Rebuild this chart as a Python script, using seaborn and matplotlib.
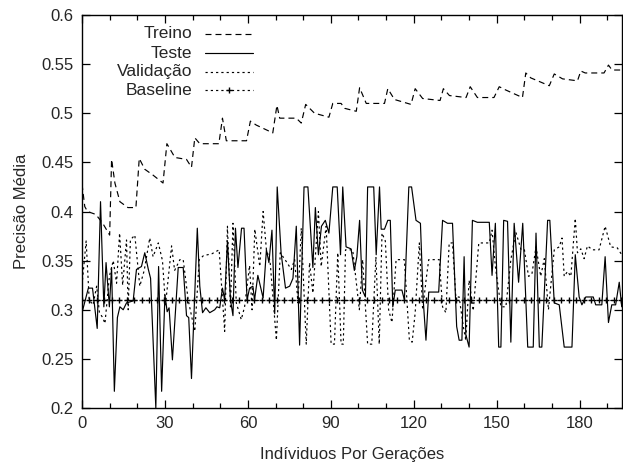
import numpy as np
import pandas as pd
import matplotlib
matplotlib.use("Agg")
import matplotlib.pyplot as plt
import seaborn as sns
from matplotlib.ticker import MultipleLocator, FuncFormatter
from matplotlib.lines import Line2D

# ---------------- data ----------------
treino_x = [0, 1, 2, 5, 7.5, 10, 10.7, 11.9, 13.7, 16.6, 19.5, 20.7, 22.7, 25.7, 29.3,
            30.7, 33.6, 37.8, 39.6, 40.8, 42.6, 49.5, 50.8, 52.2, 59.5, 60.9, 63, 69,
            70.5, 71.5, 77.5, 79.3, 80.9, 84.1, 89.3, 90.7, 93.7, 95, 99.2, 100.4, 102.8,
            109.4, 110.6, 113, 119, 120.5, 123.2, 129.5, 130.7, 132.9, 138.9, 140.4, 143,
            149, 150.9, 153, 159.3, 160.5, 162.3, 169, 170.8, 173.8, 179.2, 180.4, 182,
            188.8, 190.4, 191.7, 195.3]
treino_y = [0.428, 0.405, 0.400, 0.397, 0.388, 0.376, 0.453, 0.429, 0.410, 0.404, 0.404,
            0.454, 0.443, 0.437, 0.429, 0.469, 0.455, 0.453, 0.445, 0.475, 0.469, 0.469,
            0.495, 0.472, 0.472, 0.492, 0.488, 0.480, 0.508, 0.495, 0.495, 0.490, 0.509,
            0.500, 0.496, 0.510, 0.510, 0.505, 0.502, 0.526, 0.510, 0.510, 0.525, 0.514,
            0.509, 0.525, 0.515, 0.513, 0.525, 0.518, 0.516, 0.527, 0.516, 0.516, 0.527,
            0.524, 0.516, 0.541, 0.536, 0.528, 0.540, 0.535, 0.533, 0.543, 0.541, 0.541,
            0.549, 0.544, 0.544]

teste_x = [0, 2.3, 3.8, 5.5, 6.7, 7.9, 8.7, 9.9, 10.7, 11.7, 12.8, 13.7, 14.9, 16.1, 18.5,
           19.7, 21.5, 22.7, 24, 24.8, 26.7, 27.7, 28.8, 30, 30.8, 31.5, 32.7, 34.8, 36.6,
           37.8, 38.6, 39.6, 41.7, 42.6, 43.6, 44.8, 46.2, 48, 48.8, 49.8, 50.8, 51.6,
           52.6, 53.7, 54.6, 55.5, 56.4, 57.7, 58.6, 59.7, 60.6, 61.8, 62.4, 63.6, 65.5,
           66.7, 67.6, 68.7, 69.7, 70.6, 72, 73.6, 75.1, 76.3, 77.5, 78.7, 80.3, 81.7,
           83.5, 84.4, 85.5, 86.6, 88, 89.3, 90.7, 92.3, 93.5, 94.3, 95.5, 97.3, 98.5,
           99.4, 100.4, 101.4, 102.5, 103.3, 105.5, 106.4, 107.6, 108.2, 109.4, 110.6,
           111.5, 112.4, 113.3, 115.7, 116.6, 118.2, 119.2, 120.8, 122.4, 123.4, 124.4,
           125.4, 129, 130.4, 132.2, 134, 135.5, 136.4, 137.4, 138.2, 138.8, 140, 141.2,
           143, 147.3, 148.3, 149.5, 150.7, 151.5, 152.5, 153.9, 155.1, 156.3, 157.9,
           159.4, 161.2, 163.2, 164.2, 165.4, 166.3, 168.4, 169.2, 170.8, 172.6, 174.4,
           177.2, 178.4, 179.8, 180.8, 182.2, 184.9, 185.8, 188, 189.2, 190.4, 191.6,
           193, 194.3, 195.2]
teste_y = [0.297, 0.322, 0.322, 0.281, 0.410, 0.303, 0.348, 0.303, 0.343, 0.217, 0.292,
           0.303, 0.300, 0.307, 0.309, 0.341, 0.344, 0.358, 0.341, 0.332, 0.200, 0.344,
           0.217, 0.315, 0.298, 0.302, 0.249, 0.343, 0.343, 0.294, 0.292, 0.230, 0.383,
           0.324, 0.297, 0.302, 0.297, 0.300, 0.303, 0.302, 0.322, 0.310, 0.370, 0.310,
           0.294, 0.383, 0.343, 0.383, 0.383, 0.310, 0.322, 0.324, 0.310, 0.335, 0.312,
           0.361, 0.348, 0.381, 0.296, 0.425, 0.358, 0.322, 0.324, 0.332, 0.385, 0.264,
           0.425, 0.425, 0.343, 0.404, 0.356, 0.385, 0.391, 0.378, 0.425, 0.425, 0.356,
           0.425, 0.364, 0.362, 0.340, 0.354, 0.391, 0.320, 0.313, 0.425, 0.425, 0.356,
           0.425, 0.382, 0.382, 0.391, 0.391, 0.303, 0.320, 0.320, 0.310, 0.425, 0.425,
           0.391, 0.388, 0.310, 0.269, 0.318, 0.318, 0.391, 0.388, 0.388, 0.283, 0.269,
           0.269, 0.354, 0.275, 0.262, 0.391, 0.389, 0.389, 0.335, 0.388, 0.262, 0.262,
           0.391, 0.390, 0.267, 0.388, 0.328, 0.388, 0.262, 0.262, 0.378, 0.262, 0.262,
           0.391, 0.391, 0.307, 0.305, 0.262, 0.262, 0.356, 0.313, 0.305, 0.313, 0.313,
           0.305, 0.305, 0.354, 0.287, 0.305, 0.305, 0.328, 0.303]

valid_x = [0, 1.5, 2.6, 4, 5.3, 6.3, 7.5, 8.3, 9.9, 11.3, 12.5, 13.6, 14.7, 16.1, 16.7,
           17.5, 19.1, 20.9, 22.5, 24.5, 25.7, 27.6, 29.1, 30.2, 32.4, 33.5, 35.4, 36.6,
           38.4, 40.8, 42.4, 43.9, 47, 49.6, 51.6, 52.6, 53.7, 54.6, 55.8, 57.6, 58.8,
           60.6, 61.5, 62.5, 64.3, 65.5, 66.7, 68, 70.3, 71.7, 73.9, 75.7, 76.9, 78.1,
           79.3, 81.1, 82.3, 83.5, 85.5, 86.5, 88.3, 90.1, 91.3, 92.5, 93.7, 94.5, 95.3,
           97.9, 100.3, 101.5, 103.3, 104.8, 106.3, 107.5, 108.5, 109.7, 110.9, 112.1,
           113.6, 116.6, 118.4, 119.4, 120.5, 122, 123.2, 124.6, 125.4, 129.2, 130.4,
           131.6, 132.8, 134, 135.2, 136.4, 137.9, 138.8, 140, 141.5, 143.5, 147.3, 148.3,
           149.5, 151.5, 153.3, 155.1, 156.9, 158.8, 160, 161.5, 162.7, 164.2, 165.9,
           167.2, 168.7, 170.8, 172.6, 173.6, 174.4, 175.6, 176.8, 178.4, 179.2, 180.4,
           181.6, 182.8, 184.6, 187, 189.2, 191.2, 193.6, 195.2]
valid_y = [0.325, 0.370, 0.310, 0.305, 0.324, 0.297, 0.292, 0.286, 0.334, 0.350, 0.327,
           0.378, 0.325, 0.371, 0.300, 0.371, 0.376, 0.324, 0.340, 0.373, 0.354, 0.368,
           0.350, 0.305, 0.365, 0.340, 0.351, 0.351, 0.310, 0.278, 0.351, 0.355, 0.357,
           0.361, 0.278, 0.385, 0.303, 0.388, 0.307, 0.290, 0.303, 0.345, 0.300, 0.382,
           0.344, 0.400, 0.361, 0.350, 0.269, 0.358, 0.349, 0.341, 0.351, 0.307, 0.383,
           0.265, 0.348, 0.317, 0.400, 0.344, 0.385, 0.265, 0.265, 0.358, 0.265, 0.265,
           0.361, 0.361, 0.300, 0.351, 0.265, 0.265, 0.354, 0.265, 0.378, 0.370, 0.300,
           0.287, 0.351, 0.351, 0.269, 0.267, 0.297, 0.368, 0.300, 0.334, 0.351, 0.351,
           0.303, 0.297, 0.368, 0.368, 0.313, 0.313, 0.283, 0.269, 0.330, 0.299, 0.368,
           0.368, 0.381, 0.344, 0.303, 0.303, 0.351, 0.379, 0.361, 0.361, 0.334, 0.336,
           0.364, 0.334, 0.352, 0.300, 0.361, 0.364, 0.373, 0.334, 0.339, 0.334, 0.393,
           0.358, 0.362, 0.352, 0.365, 0.361, 0.361, 0.385, 0.364, 0.363, 0.356]

baseline_value = 0.31
baseline_x = list(np.round(np.linspace(0, 195, 73), 2))

x_ticks = [0, 30, 60, 90, 120, 150, 180]
y_ticks = [0.2, 0.25, 0.3, 0.35, 0.4, 0.45, 0.5, 0.55, 0.6]
labels = ["Treino", "Teste", "Validação", "Baseline"]

# ---------------- style ----------------
sns.set_style("ticks")
plt.rcParams["font.family"] = ["Liberation Sans", "DejaVu Sans"]
plt.rcParams["lines.scale_dashes"] = False
plt.rcParams["font.size"] = 12

fig = plt.figure(figsize=(6.23, 4.66), dpi=100)
ax = fig.add_axes([82 / 623, 1 - 408 / 466, 540 / 623, 393 / 466])

df_tr = pd.DataFrame({"x": treino_x, "y": treino_y})
df_te = pd.DataFrame({"x": teste_x, "y": teste_y})
df_va = pd.DataFrame({"x": valid_x, "y": valid_y})
df_bl = pd.DataFrame({"x": baseline_x, "y": [baseline_value] * len(baseline_x)})

lw = 0.85
dot = (0, (1.6, 2.2))
sns.lineplot(data=df_tr, x="x", y="y", ax=ax, color="black", lw=lw,
             estimator=None, sort=False, linestyle=(0, (4.3, 2.9)))
sns.lineplot(data=df_te, x="x", y="y", ax=ax, color="black", lw=lw,
             estimator=None, sort=False)
sns.lineplot(data=df_va, x="x", y="y", ax=ax, color="black", lw=lw,
             estimator=None, sort=False, linestyle=dot)
sns.lineplot(data=df_bl, x="x", y="y", ax=ax, color="black", lw=lw,
             estimator=None, sort=False, linestyle=dot,
             marker="+", markersize=4.5, markeredgewidth=1.0,
             markeredgecolor="black", markerfacecolor="black")

ax.set_xlim(0, 195.3)
ax.set_ylim(0.2, 0.6)
ax.xaxis.set_major_locator(matplotlib.ticker.FixedLocator(x_ticks))
ax.xaxis.set_minor_locator(MultipleLocator(10))
ax.yaxis.set_major_locator(matplotlib.ticker.FixedLocator(y_ticks))
ax.yaxis.set_major_formatter(FuncFormatter(lambda v, p: "%g" % round(v, 3)))
ax.tick_params(which="both", direction="in", top=True, right=True, color="black",
               labelsize=12, pad=6)
ax.tick_params(which="major", length=6, width=0.9)
ax.tick_params(which="minor", length=3.5, width=0.9)
ax.tick_params(axis="y", which="minor", left=False, right=False)
for s in ax.spines.values():
    s.set_linewidth(1.0)
    s.set_color("black")
    s.set_visible(True)

ax.set_xlabel("Indíviduos Por Gerações", fontsize=12, labelpad=11)
ax.set_ylabel("Precisão Média", fontsize=12, labelpad=9)

# gnuplot-style key (right-aligned text, sample to the right)
styles = [dict(linestyle=(0, (4.3, 2.9))), dict(linestyle="-"),
          dict(linestyle=dot), dict(linestyle=dot)]
rows = [0.952, 0.903, 0.855, 0.809]
for lab, st, yy in zip(labels, styles, rows):
    ax.text(0.204, yy, lab, transform=ax.transAxes, ha="right", va="center", fontsize=12.5)
    ax.add_line(Line2D([0.228, 0.317], [yy, yy], transform=ax.transAxes,
                       color="black", lw=lw, **st))
ax.add_line(Line2D([0.2725], [rows[3]], transform=ax.transAxes, color="black",
                   marker="+", markersize=4.5, markeredgewidth=1.0, linestyle="none"))

fig.savefig("out.png", dpi=100)
